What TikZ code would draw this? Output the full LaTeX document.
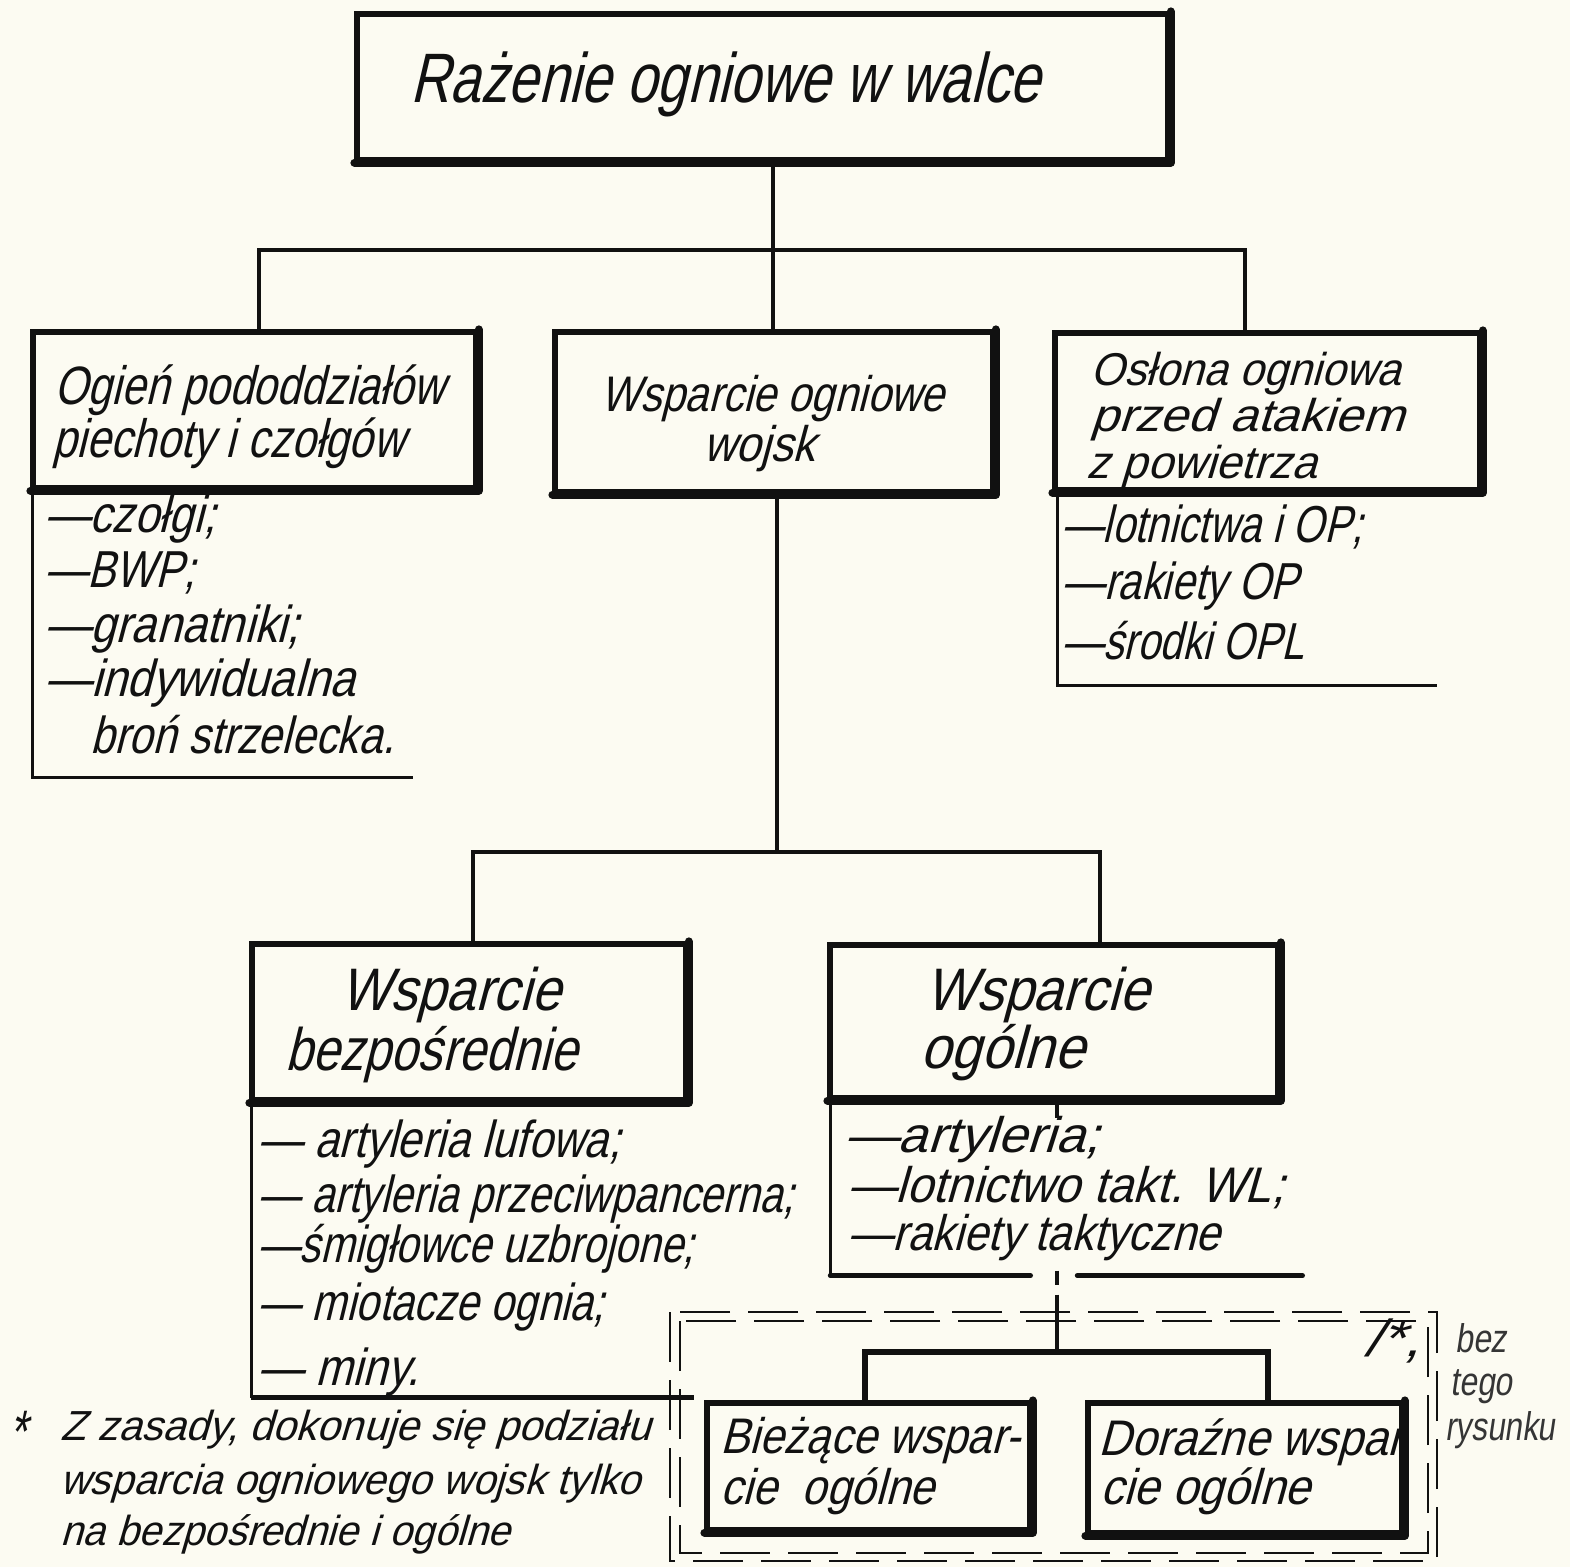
\documentclass[tikz,border=0pt]{standalone}
\usepackage{graphicx}
\usepackage{fontspec}
\setmainfont{Liberation Sans}
\newfontfamily\hand[FakeStretch=0.73,FakeSlant=0.22]{Liberation Sans}
\newfontfamily\pen[FakeStretch=0.8,FakeSlant=0.15]{Liberation Sans}
\newcommand\fitw[2]{\resizebox{#1}{\height}{#2}}
\definecolor{paper}{HTML}{FCFBF2}
\definecolor{ink}{HTML}{111111}
\begin{document}
\begin{tikzpicture}[x=0.5pt,y=-0.5pt,
  box/.style={draw=ink, line width=2.6pt, rectangle, inner sep=0pt},
  heavy/.style={draw=ink, line width=4pt, line cap=round, line join=round},
  conn/.style={draw=ink, line width=1.7pt},
  listline/.style={draw=ink, line width=1.8pt},
  frameline/.style={draw=ink, line width=1.2pt, dash pattern=on 25pt off 9pt},
  txt/.style={anchor=base west, inner sep=0pt, text=ink, font=\hand\fontsize{26}{30}\selectfont},
  ctxt/.style={txt, anchor=base},
  bigtxt/.style={font=\hand\fontsize{30}{34}\selectfont},
  midtxt/.style={font=\hand\fontsize{25}{30}\selectfont},
  smalltxt/.style={font=\hand\fontsize{23}{28}\selectfont},
  subtxt/.style={font=\hand\fontsize{25}{30}\selectfont},
  foottxt/.style={font=\hand\fontsize{21}{25}\selectfont},
  note/.style={anchor=base west, inner sep=0pt, text=ink!85, font=\pen\fontsize{20}{24}\selectfont}
]
\useasboundingbox[fill=paper] (0,0) rectangle (1570,1567);

% boxes
\node[box, minimum width=405.5pt, minimum height=73pt] (top) at (762.5,87) {};
\node[box, minimum width=221.5pt, minimum height=78pt] (ogien) at (254.5,410) {};
\node[box, minimum width=219pt, minimum height=80pt] (wsp) at (774,412) {};
\node[box, minimum width=212.5pt, minimum height=78.5pt] (oslona) at (1267.5,411.5) {};
\node[box, minimum width=217pt, minimum height=78pt] (bezp) at (469,1022) {};
\node[box, minimum width=224pt, minimum height=76.5pt] (ogol) at (1054,1021.5) {};
\node[box, minimum width=161.5pt, minimum height=63.5pt] (biez) at (868.5,1466.5) {};
\node[box, minimum width=157pt, minimum height=65pt] (dora) at (1245,1468) {};

% box texts
\node[txt, font=\hand\fontsize{35}{40}\selectfont] (ttop) at (410,103) {\fitw{315pt}{Rażenie ogniowe w walce}};
\node[txt, font=\hand\fontsize{27}{32}\selectfont] (tog1) at (54,405) {\fitw{195pt}{Ogień pododdziałów}};
\node[txt, font=\hand\fontsize{27}{32}\selectfont] (tog2) at (52,458) {\fitw{176pt}{piechoty i czołgów}};
\node[txt, midtxt] (tws1) at (600,412) {\fitw{172pt}{Wsparcie ogniowe}};
\node[txt, midtxt] (tws2) at (703,462) {\fitw{56pt}{wojsk}};
\node[txt, smalltxt] (tos1) at (1090,386) {\fitw{155pt}{Osłona ogniowa}};
\node[txt, smalltxt] (tos2) at (1090,432) {\fitw{157pt}{przed atakiem}};
\node[txt, smalltxt] (tos3) at (1086,479) {\fitw{115pt}{z powietrza}};
\node[txt, bigtxt] (tbz1) at (340,1010) {\fitw{110pt}{Wsparcie}};
\node[txt, bigtxt] (tbz2) at (285,1070) {\fitw{146pt}{bezpośrednie}};
\node[txt, bigtxt] (tgo1) at (925,1010) {\fitw{112pt}{Wsparcie}};
\node[txt, bigtxt] (tgo2) at (920,1068) {\fitw{82pt}{ogólne}};
\node[txt, subtxt] (tbi1) at (720,1453) {\fitw{150pt}{Bieżące wspar-}};
\node[txt, subtxt] (tbi2) at (720,1504) {\fitw{107pt}{cie ~ogólne}};
\node[txt, subtxt] (tdo1) at (1098,1455) {\fitw{152pt}{Doraźne wspar}};
\node[txt, subtxt] (tdo2) at (1100,1504) {\fitw{105pt}{cie ogólne}};

% heavy bottom/right edges
\foreach \b in {top,ogien,wsp,oslona,bezp,ogol,biez,dora}{
  \draw[heavy] (\b.south west) -- (\b.south east) -- (\b.north east);
}

% connectors
\coordinate (j1) at (773,250);
\coordinate (jl) at (259,250);
\coordinate (jr) at (1245,250);
\draw[conn] (top.south -| j1) -- (j1);
\draw[conn] (ogien.north -| jl) -- (jl) -- (jr) -- (oslona.north -| jr);
\draw[conn] (j1) -- (wsp.north -| j1);

\coordinate (j2) at (777,852);
\coordinate (j2l) at (473,852);
\coordinate (j2r) at (1100,852);
\draw[conn] (wsp.south -| j2) -- (j2);
\draw[conn] (bezp.north -| j2l) -- (j2l) -- (j2r) -- (ogol.north -| j2r);

\coordinate (j3) at (1057,1352);
\coordinate (j3l) at (865,1352);
\coordinate (j3r) at (1268,1352);
\draw[conn, dash pattern=on 8.5pt off 76.5pt on 7pt off 5pt on 40pt off 1pt] (ogol.south -| j3) -- (j3);
\draw[draw=ink, line width=2.6pt] (biez.north -| j3l) -- (j3l) -- (j3r) -- (dora.north -| j3r);

% lists
\draw[listline] ([xshift=1pt]ogien.south west) -- ++(0,287) -- ++(381,0);
\node[txt] (l11) at (45,533) {\fitw{85pt}{—czołgi;}};
\node[txt] (l12) at (45,588) {\fitw{75pt}{—BWP;}};
\node[txt] (l13) at (45,642) {\fitw{127pt}{—granatniki;}};
\node[txt] (l14) at (45,697) {\fitw{155pt}{—indywidualna}};
\node[txt] (l15) at (90,753) {\fitw{152pt}{broń strzelecka.}};

\draw[listline] ([xshift=2.5pt]oslona.south west) -- ++(0,193) -- ++(380,0);
\node[txt] (l31) at (1062,543) {\fitw{150pt}{—lotnictwa i OP;}};
\node[txt] (l32) at (1062,600) {\fitw{118pt}{—rakiety OP}};
\node[txt] (l33) at (1062,660) {\fitw{121pt}{—środki OPL}};

\draw[listline] ([xshift=1pt]bezp.south west) -- ++(0,295);
\draw[draw=ink, line width=2.6pt] ([xshift=1pt,yshift=-147.5pt]bezp.south west) -- ++(443,0);
\node[txt] (l41) at (258,1157) {\fitw{181pt}{— artyleria lufowa;}};
\node[txt] (l42) at (258,1212) {\fitw{268pt}{— artyleria przeciwpancerna;}};
\node[txt] (l43) at (258,1262) {\fitw{218pt}{—śmigłowce uzbrojone;}};
\node[txt] (l44) at (258,1320) {\fitw{173pt}{— miotacze ognia;}};
\node[txt] (l45) at (258,1385) {\fitw{80pt}{— miny.}};

\draw[listline] ([xshift=1.5pt]ogol.south west) -- ++(0,175);
\draw[draw=ink, line width=2.6pt, line cap=round] ([xshift=1.5pt,yshift=-87.5pt]ogol.south west) -- ++(200,0) ++(47,0) -- ++(225,0);
\node[txt, midtxt] (l51) at (845,1152) {\fitw{127pt}{—artyleria;}};
\node[txt, midtxt] (l52) at (848,1202) {\fitw{218pt}{—lotnictwo takt. WL;}};
\node[txt, midtxt] (l53) at (848,1250) {\fitw{186pt}{—rakiety taktyczne}};

% dashed double frame
\draw[frameline] (670,1312) rectangle (1437,1561);
\draw[frameline] (680,1321) rectangle (1428,1553);
\node[txt] (star) at (1364,1356) {\fitw{28pt}{/*,}};

% handwritten note
\node[note] (n1) at (1455,1352) {bez};
\node[note] (n2) at (1450,1395) {tego};
\node[note] (n3) at (1445,1440) {\fitw{55pt}{rysunku}};

% footnote
\node[txt, font=\hand\fontsize{30}{34}\selectfont] (fs) at (8,1452) {*};
\node[txt, foottxt] (f1) at (60,1440) {\fitw{295pt}{Z zasady, dokonuje się podziału}};
\node[txt, foottxt] (f2) at (60,1494) {\fitw{290pt}{wsparcia ogniowego wojsk tylko}};
\node[txt, foottxt] (f3) at (60,1545) {\fitw{225pt}{na bezpośrednie i ogólne}};
\end{tikzpicture}
\end{document}
